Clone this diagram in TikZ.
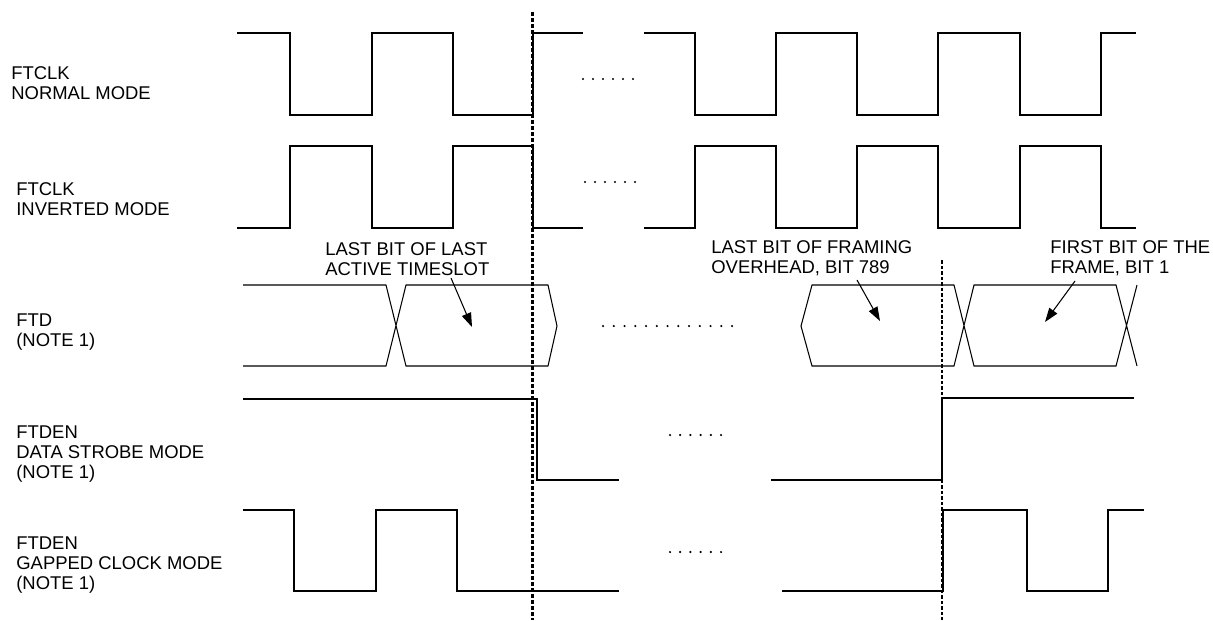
\documentclass[tikz,border=0pt]{standalone}
\usepackage{fontspec}
\setmainfont{Liberation Sans}
\usetikzlibrary{arrows.meta}

\begin{document}
\begin{tikzpicture}
        [%%%%%%%%%%%%%%%%%%%%%%%%%%%%%%
        x=0.02cm, y=-0.02cm,
        wave/.style={line width=0.6pt},
        lbl/.style={anchor=west, align=left, inner sep=0pt, font=\fontsize{10.5}{11.6}\selectfont},
        ptr/.style={line width=0.6pt, -{Triangle[length=8pt,width=5.5pt]}},
        mark line/.style={line width=1.7pt, dash pattern=on 0.08cm off 0.04cm},
        thin mark/.style={line width=0.7pt, dash pattern=on 0.07cm off 0.04cm},
        ]%%%%%%%%%%%%%%%%%%%%%%%%%%%%%%

        \useasboundingbox (0,0) rectangle (1213,620);

        \node[lbl] (clkn) at (11,83) {FTCLK\\NORMAL MODE};
        \node[lbl] (clki) at (16,199) {FTCLK\\INVERTED MODE};
        \node[lbl] (ftd) at (16,332) {FTD\\(NOTE 1)};
        \node[lbl] (dens) at (16,454) {FTDEN\\DATA STROBE MODE\\(NOTE 1)};
        \node[lbl] (deng) at (16,565) {FTDEN\\GAPPED CLOCK MODE\\(NOTE 1)};

        \node[lbl] (lastbit) at (325,259) {LAST BIT OF LAST\\ACTIVE TIMESLOT};
        \node[lbl] (ovh) at (711,258) {LAST BIT OF FRAMING\\OVERHEAD, BIT 789};
        \node[lbl] (first) at (1050,258) {FIRST BIT OF THE\\FRAME, BIT 1};

        % clocks
        \draw[wave] (237,33) -- (290,33) -- (290,115) -- (372,115) -- (372,33) -- (453,33)
          -- (453,115) -- (533,115) -- (533,33) -- (583,33);
        \draw[wave] (644,33) -- (695,33) -- (695,115) -- (776,115) -- (776,33) -- (857,33)
          -- (857,115) -- (938,115) -- (938,33) -- (1020,33) -- (1020,115) -- (1101,115)
          -- (1101,33) -- (1136,33);
        \draw[wave] (237,228) -- (290,228) -- (290,146) -- (372,146) -- (372,228) -- (453,228)
          -- (453,146) -- (533,146) -- (533,228) -- (583,228);
        \draw[wave] (644,228) -- (695,228) -- (695,146) -- (776,146) -- (776,228) -- (857,228)
          -- (857,146) -- (938,146) -- (938,228) -- (1020,228) -- (1020,146) -- (1101,146)
          -- (1101,228) -- (1136,228);

        % data
        \draw[wave] (243,285) -- (386,285) -- (406,366) -- (548,366) -- (557,326) -- (548,285)
          -- (406,285) -- (386,366) -- (243,366);
        \draw[wave] (1137,366) -- (1116,285) -- (974,285) -- (954,366) -- (812,366) -- (801,326)
          -- (812,285) -- (954,285) -- (974,366) -- (1116,366) -- (1137,285);

        % enables
        \draw[wave] (243,399) -- (537,399) -- (537,480) -- (619,480);
        \draw[wave] (771,480) -- (942,480) -- (942,398) -- (1134,398);
        \draw[wave] (243,510) -- (294,510) -- (294,591) -- (376,591) -- (376,510) -- (457,510)
          -- (457,591) -- (619,591);
        \draw[wave] (782,591) -- (943,591) -- (943,510) -- (1027,510) -- (1027,591) -- (1108,591)
          -- (1108,510) -- (1144,510);

        \foreach \i in {0,...,5}{
          \fill (583+\i*10,79) circle (0.7pt);
          \fill (585+\i*10,182) circle (0.7pt);
          \fill (670+\i*10.2,435) circle (0.7pt);
          \fill (670+\i*10.2,552) circle (0.7pt);
        }
        \foreach \i in {0,...,12}
          \fill (603+\i*10.75,326) circle (0.7pt);

        \coordinate (a1s) at (451,278);
        \coordinate (a1e) at (472,327);
        \coordinate (a2s) at (857,280);
        \coordinate (a2e) at (880,321);
        \coordinate (a3s) at (1075,281);
        \coordinate (a3e) at (1045,322);
        \draw[ptr] (a1s) -- (a1e);
        \draw[ptr] (a2s) -- (a2e);
        \draw[ptr] (a3s) -- (a3e);

        \coordinate (m1t) at (532,12);
        \coordinate (m1b) at (532,620);
        \coordinate (m2t) at (942,260);
        \coordinate (m2b) at (942,620);
        \draw[mark line] (m1t) -- (m1b);
        \draw[thin mark] (m2t) -- (m2b);
      \end{tikzpicture}
\end{document}
